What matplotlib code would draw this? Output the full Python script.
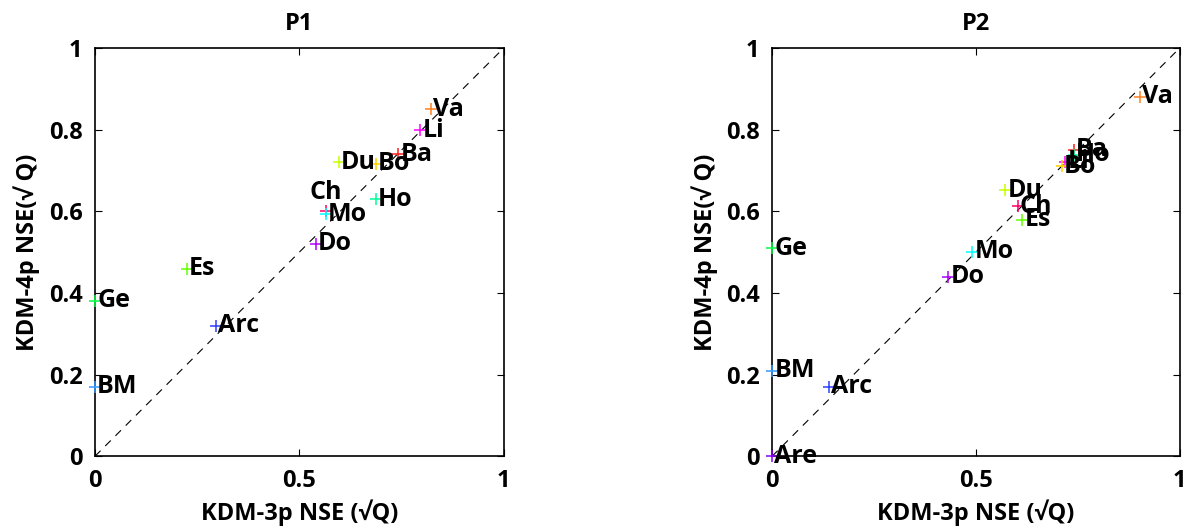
import matplotlib.pyplot as plt
import numpy as np

plt.rcParams['font.family'] = ['Open Sans', 'DejaVu Sans']
plt.rcParams['font.weight'] = 'bold'

# station colours
colors = {
    'BM': '#3399ff', 'Arc': '#3040ff', 'Are': '#8a00ff', 'Do': '#b000ff',
    'Li': '#ff00ff', 'Ch': '#ff0066', 'Ba': '#ff2020', 'Va': '#ff8020',
    'Bo': '#ffd000', 'Du': '#c8ff00', 'Es': '#66ff00', 'Ge': '#00ff40',
    'Ho': '#00ff99', 'Mo': '#00ffff',
}

# P1
p1_names = ['Va', 'Li', 'Ba', 'Du', 'Bo', 'Ch', 'Mo', 'Ho', 'Do', 'Es', 'Ge', 'BM', 'Arc']
p1_x = [0.823, 0.796, 0.742, 0.597, 0.687, 0.566, 0.565, 0.687, 0.540, 0.224, 0.0, 0.0, 0.297]
p1_y = [0.850, 0.799, 0.740, 0.720, 0.717, 0.601, 0.593, 0.630, 0.520, 0.459, 0.381, 0.170, 0.320]

# P2
p2_names = ['Va', 'Ba', 'Ho', 'Li', 'Bo', 'Du', 'Ch', 'Es', 'Mo', 'Do', 'Ge', 'BM', 'Arc', 'Are']
p2_x = [0.902, 0.740, 0.740, 0.719, 0.711, 0.572, 0.603, 0.614, 0.491, 0.432, 0.0, 0.0, 0.139, 0.0]
p2_y = [0.881, 0.751, 0.738, 0.722, 0.710, 0.651, 0.612, 0.579, 0.501, 0.440, 0.509, 0.209, 0.170, 0.0]

# label offsets (points) that differ from the default
p1_offsets = {'Ch': (-12, 13)}
p2_offsets = {}

fs = 17

fig = plt.figure(figsize=(11.88, 5.28), dpi=100)
ax1 = fig.add_axes([0.080, 0.136, 0.344, 0.773])
ax2 = fig.add_axes([0.650, 0.136, 0.343, 0.773])

panels = [
    (ax1, 'P1', p1_names, p1_x, p1_y, p1_offsets),
    (ax2, 'P2', p2_names, p2_x, p2_y, p2_offsets),
]

for ax, title, names, xs, ys, offs in panels:
    ax.plot([0, 1], [0, 1], color='black', linestyle=(0, (7, 6)), linewidth=0.8)
    for n, x, y in zip(names, xs, ys):
        ax.plot(x, y, marker='+', color=colors[n], markersize=8, markeredgewidth=1.1,
                linestyle='none', clip_on=False, zorder=3)
        dx, dy = offs.get(n, (1.5, 0))
        ax.annotate(n, (x, y), xytext=(dx, dy), textcoords='offset points',
                    ha='left', va='center', fontsize=18, fontweight='bold', zorder=4)
    ax.set_xlim(0, 1)
    ax.set_ylim(0, 1)
    ax.set_xticks([0, 0.5, 1])
    ax.set_xticklabels(['0', '0.5', '1'])
    ax.set_yticks([0, 0.2, 0.4, 0.6, 0.8, 1])
    ax.set_yticklabels(['0', '0.2', '0.4', '0.6', '0.8', '1'])
    ax.tick_params(direction='in', length=5, width=0.8, top=True, right=True,
                   labelsize=fs, pad=9)
    for s in ax.spines.values():
        s.set_linewidth(1.2)
    ax.set_title(title, fontsize=fs, fontweight='bold', pad=13)
    ax.set_xlabel('KDM-3p NSE (√Q)', fontsize=fs, fontweight='bold', labelpad=5)
    ax.set_ylabel('KDM-4p NSE(√ Q)', fontsize=fs, fontweight='bold', labelpad=6)

fig.savefig('out.png', dpi=100)
